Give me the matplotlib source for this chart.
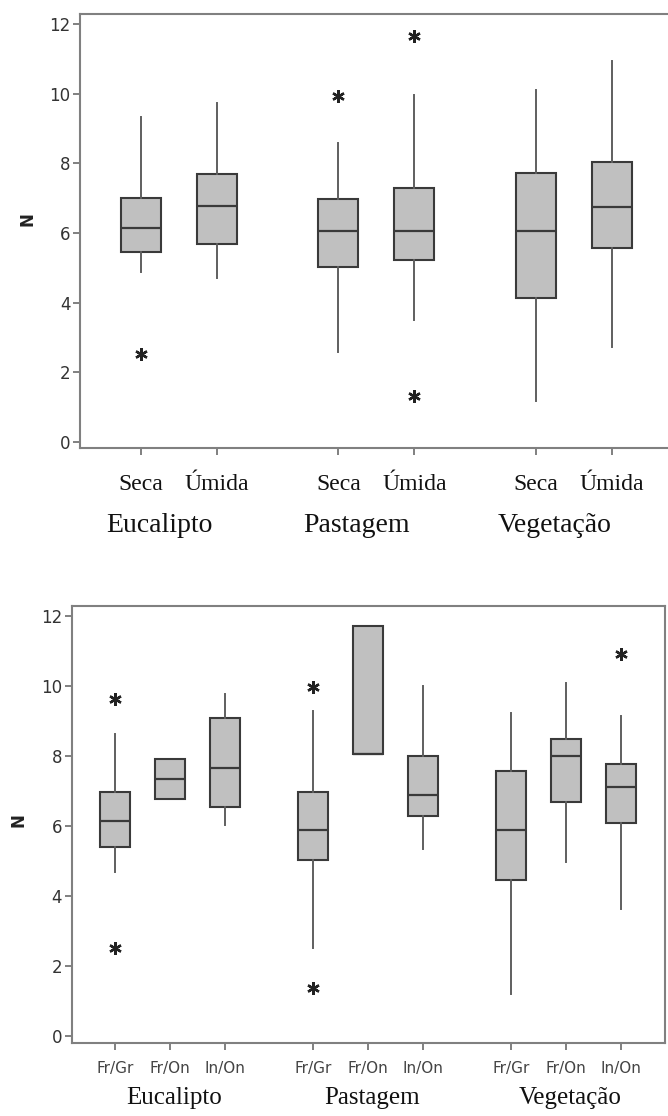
import matplotlib
matplotlib.use("Agg")
import matplotlib.pyplot as plt
import numpy as np

# top panel: season per land use
top_groups = ["Eucalipto", "Pastagem", "Vegetação"]
top_ticks = ["Seca", "Úmida", "Seca", "Úmida", "Seca", "Úmida"]
top_whislo = [4.89, 4.70, 2.57, 3.50, 1.17, 2.71]
top_q1 = [5.45, 5.68, 5.02, 5.22, 4.12, 5.56]
top_med = [6.14, 6.77, 6.05, 6.05, 6.07, 6.76]
top_q3 = [7.00, 7.69, 6.97, 7.29, 7.73, 8.03]
top_whishi = [9.33, 9.73, 8.58, 9.97, 10.11, 10.95]
top_fliers = [[2.52], [], [9.94], [11.67, 1.32], [], []]

# bottom panel: guild per land use
bot_groups = ["Eucalipto", "Pastagem", "Vegetação"]
bot_ticks = ["Fr/Gr", "Fr/On", "In/On"] * 3
bot_whislo = [4.69, 6.76, 6.03, 2.50, 8.06, 5.33, 1.20, 4.98, 3.63]
bot_q1 = [5.41, 6.76, 6.53, 5.03, 8.06, 6.29, 4.46, 6.69, 6.08]
bot_med = [6.15, 7.35, 7.65, 5.89, 8.06, 6.89, 5.89, 8.00, 7.12]
bot_q3 = [6.96, 7.91, 9.08, 6.96, 11.71, 8.00, 7.57, 8.49, 7.76]
bot_whishi = [8.62, 7.91, 9.76, 9.27, 11.71, 10.00, 9.22, 10.08, 9.14]
bot_fliers = [[9.62, 2.52], [], [], [9.98, 1.36], [], [], [], [], [10.9]]

SPINE = "#808080"
EDGE = "#3a3a3a"
WHISK = "#5f5f5f"
FILL = "#c0c0c0"
SERIF = ["Liberation Serif", "DejaVu Serif"]


def positions(n_groups, per_group, gap=0.6):
    return [g * (per_group + gap) + j for g in range(n_groups) for j in range(per_group)]


def draw_panel(ax, pos, whislo, q1, med, q3, whishi, fliers, width):
    stats = []
    for i in range(len(pos)):
        stats.append(dict(whislo=whislo[i], q1=q1[i], med=med[i], q3=q3[i],
                          whishi=whishi[i], fliers=fliers[i]))
    ax.bxp(stats, positions=pos, widths=width, patch_artist=True, showcaps=False,
           boxprops=dict(facecolor=FILL, edgecolor=EDGE, linewidth=1.5),
           medianprops=dict(color=EDGE, linewidth=1.6),
           whiskerprops=dict(color=WHISK, linewidth=1.4),
           flierprops=dict(marker=(6, 2, 0), markersize=9, markeredgewidth=1.7,
                           markeredgecolor="#222222", linestyle="none"),
           manage_ticks=False)
    for s in ax.spines.values():
        s.set_color(SPINE)
        s.set_linewidth(1.5)
    ax.tick_params(axis="both", colors=SPINE, length=5, width=1.4)
    ax.tick_params(axis="y", labelcolor="#333333", labelsize=12, pad=2)
    ax.set_yticks([0, 2, 4, 6, 8, 10, 12])
    ax.set_ylabel("N", fontsize=12, fontweight="bold", color="#222222")


fig = plt.figure(figsize=(6.68, 11.16), dpi=100)

# ---- top panel
ax1 = fig.add_axes([0.1198, 0.5986, 0.887, 0.3889])
pos1 = positions(3, 2)
draw_panel(ax1, pos1, top_whislo, top_q1, top_med, top_q3, top_whishi, top_fliers, 0.53)
ax1.set_xlim(-0.8, 7.0)
ax1.set_ylim(-0.18, 12.3)
ax1.set_xticks(pos1)
ax1.set_xticklabels(top_ticks, fontfamily=SERIF, fontsize=17, color="#111111")
ax1.tick_params(axis="x", pad=14, labelcolor="#111111")
ax1.yaxis.set_label_coords(-0.074, 0.528)
for g, name in enumerate(top_groups):
    cx = np.mean(pos1[2 * g:2 * g + 2])
    ax1.annotate(name, xy=(cx, 0), xycoords=("data", "axes fraction"),
                 xytext=(-14, -56), textcoords="offset points",
                 ha="center", va="center", fontsize=20, fontfamily=SERIF, color="#111111")

# ---- bottom panel
ax2 = fig.add_axes([0.1073, 0.0651, 0.888, 0.3921])
pos2 = positions(3, 3)
draw_panel(ax2, pos2, bot_whislo, bot_q1, bot_med, bot_q3, bot_whishi, bot_fliers, 0.55)
ax2.set_xlim(-0.79, 10.0)
ax2.set_ylim(-0.21, 12.29)
ax2.set_xticks(pos2)
ax2.set_xticklabels(bot_ticks, fontfamily=["Liberation Sans Narrow", "DejaVu Sans"],
                    fontsize=11)
ax2.tick_params(axis="x", pad=8, labelcolor="#444444")
ax2.yaxis.set_label_coords(-0.074, 0.51)
for g, name in enumerate(bot_groups):
    cx = np.mean(pos2[3 * g:3 * g + 3])
    ax2.annotate(name, xy=(cx, 0), xycoords=("data", "axes fraction"),
                 xytext=(3, -39), textcoords="offset points",
                 ha="center", va="center", fontsize=18, fontfamily=SERIF, color="#111111")

fig.savefig("out.png", dpi=100)
